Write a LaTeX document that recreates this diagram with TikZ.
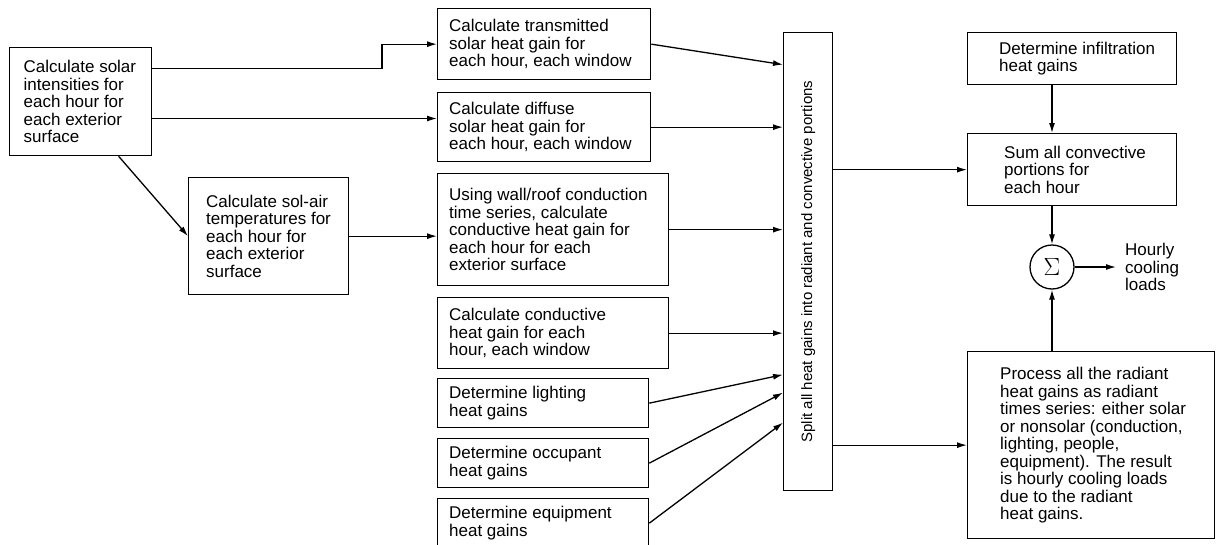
\documentclass[tikz,border=0pt]{standalone}
\usepackage{fontspec}
\setmainfont{Liberation Sans}
\usetikzlibrary{arrows.meta}
\begin{document}
\begin{tikzpicture}[x=1pt,y=-1pt,
  every node/.style={font=\fontsize{17}{17.5}\selectfont},
  box/.style={draw, line width=1.3pt, inner sep=0pt, anchor=north west},
  txt/.style={align=left, anchor=west, inner sep=0pt},
  arr/.style={line width=1.3pt, -{Latex[length=10pt,width=6pt]}},
  splitfont/.style={font=\fontsize{15}{15}\selectfont}]
\clip (0,0) rectangle (1216,544);
\fill[white] (0,0) rectangle (1216,544);

% left column
\node[box, minimum width=142pt, minimum height=108pt] (A) at (9,47) {};
\node[txt] (At) at ([xshift=14.5pt]A.west)
  {Calculate solar\\intensities for\\each hour for\\each exterior\\surface};
\node[box, minimum width=160pt, minimum height=117pt] (A2) at (188,177) {};
\node[txt] (A2t) at ([xshift=18pt]A2.west)
  {Calculate sol-air\\temperatures for\\each hour for\\each exterior\\surface};

% middle column
\node[box, minimum width=213pt, minimum height=71pt] (T1) at (437,8) {};
\node[txt] (T1t) at ([xshift=12pt]T1.west)
  {Calculate transmitted\\solar heat gain for\\each hour, each window};
\node[box, minimum width=213pt, minimum height=69pt] (T2) at (437,92) {};
\node[txt] (T2t) at ([xshift=12pt]T2.west)
  {Calculate diffuse\\solar heat gain for\\each hour, each window};
\node[box, minimum width=231pt, minimum height=112pt] (T3) at (437,173) {};
\node[txt] (T3t) at ([xshift=12pt]T3.west)
  {Using wall/roof conduction\\time series, calculate\\conductive heat gain for\\each hour for each\\exterior surface};
\node[box, minimum width=231pt, minimum height=71pt] (T4) at (437,297) {};
\node[txt] (T4t) at ([xshift=12pt]T4.west)
  {Calculate conductive\\heat gain for each\\hour, each window};
\node[box, minimum width=211pt, minimum height=49pt] (T5) at (437,378) {};
\node[txt] (T5t) at ([xshift=12pt]T5.west)
  {Determine lighting\\heat gains};
\node[box, minimum width=211pt, minimum height=49pt] (T6) at (437,438) {};
\node[txt] (T6t) at ([xshift=12pt]T6.west)
  {Determine occupant\\heat gains};
\node[box, minimum width=211pt, minimum height=49pt] (T7) at (437,498) {};
\node[txt] (T7t) at ([xshift=12pt]T7.west)
  {Determine equipment\\heat gains};

% split box
\node[box, minimum width=49pt, minimum height=458pt] (split) at (783,32) {};
\node[splitfont, rotate=90] (splittxt) at (split.center)
  {Split all heat gains into radiant and convective portions};

% right column
\node[box, minimum width=209pt, minimum height=52pt] (I) at (967,32) {};
\node[txt] (It) at ([xshift=32pt]I.west)
  {Determine infiltration\\heat gains};
\node[box, minimum width=209pt, minimum height=72pt] (S) at (967,133) {};
\node[txt] (St) at ([xshift=37pt]S.west)
  {Sum all convective\\portions for\\each hour};
\node[box, minimum width=247pt, minimum height=187pt] (P) at (967,351) {};
\node[txt] (Pt) at ([xshift=33pt]P.west)
  {Process all the radiant\\heat gains as radiant\\times series: either solar\\or nonsolar (conduction,\\lighting, people,\\equipment). The result\\is hourly cooling loads\\due to the radiant\\heat gains.};
\node[draw, circle, line width=1.3pt, minimum size=44pt, inner sep=0pt] (sum) at (1052,267)
  {\fontsize{27}{27}\selectfont$\Sigma$};
\node[align=left, anchor=west, inner xsep=9pt, inner ysep=0pt] (out) at (1116,267)
  {Hourly\\cooling\\loads};

% connectors
\coordinate (k1) at (382,68.5);
\coordinate (k2) at (437,118.5);
\draw[arr] (A.east |- k1) -- (k1) |- (T1.west);
\draw[arr] (A.east |- k2) -- (T2.west |- k2);
\draw[arr] ([xshift=38pt]A.south) -- (A2.west);
\draw[arr] (A2.east) -- (A2.east -| T3.west);

\draw[arr] (T1.east) -- ([yshift=197pt]split.west);
\draw[arr] (T2.east) -- (T2.east -| split.west);
\draw[arr] (T3.east) -- (T3.east -| split.west);
\draw[arr] (T4.east) -- (T4.east -| split.west);
\draw[arr] (T5.east) -- ([yshift=-113pt]split.west);
\draw[arr] (T6.east) -- ([yshift=-131pt]split.west);
\draw[arr] (T7.east) -- ([yshift=-161pt]split.west);

\draw[arr] (split.east |- S.west) -- (S.west);
\draw[arr] (split.east |- P.west) -- (P.west);

\draw[arr] (I.south -| sum) -- (S.north -| sum);
\draw[arr] (S.south -| sum) -- (sum.north);
\draw[arr] (P.north -| sum) -- (sum.south);
\draw[arr] (sum.east) -- (out.west);
\end{tikzpicture}
\end{document}
